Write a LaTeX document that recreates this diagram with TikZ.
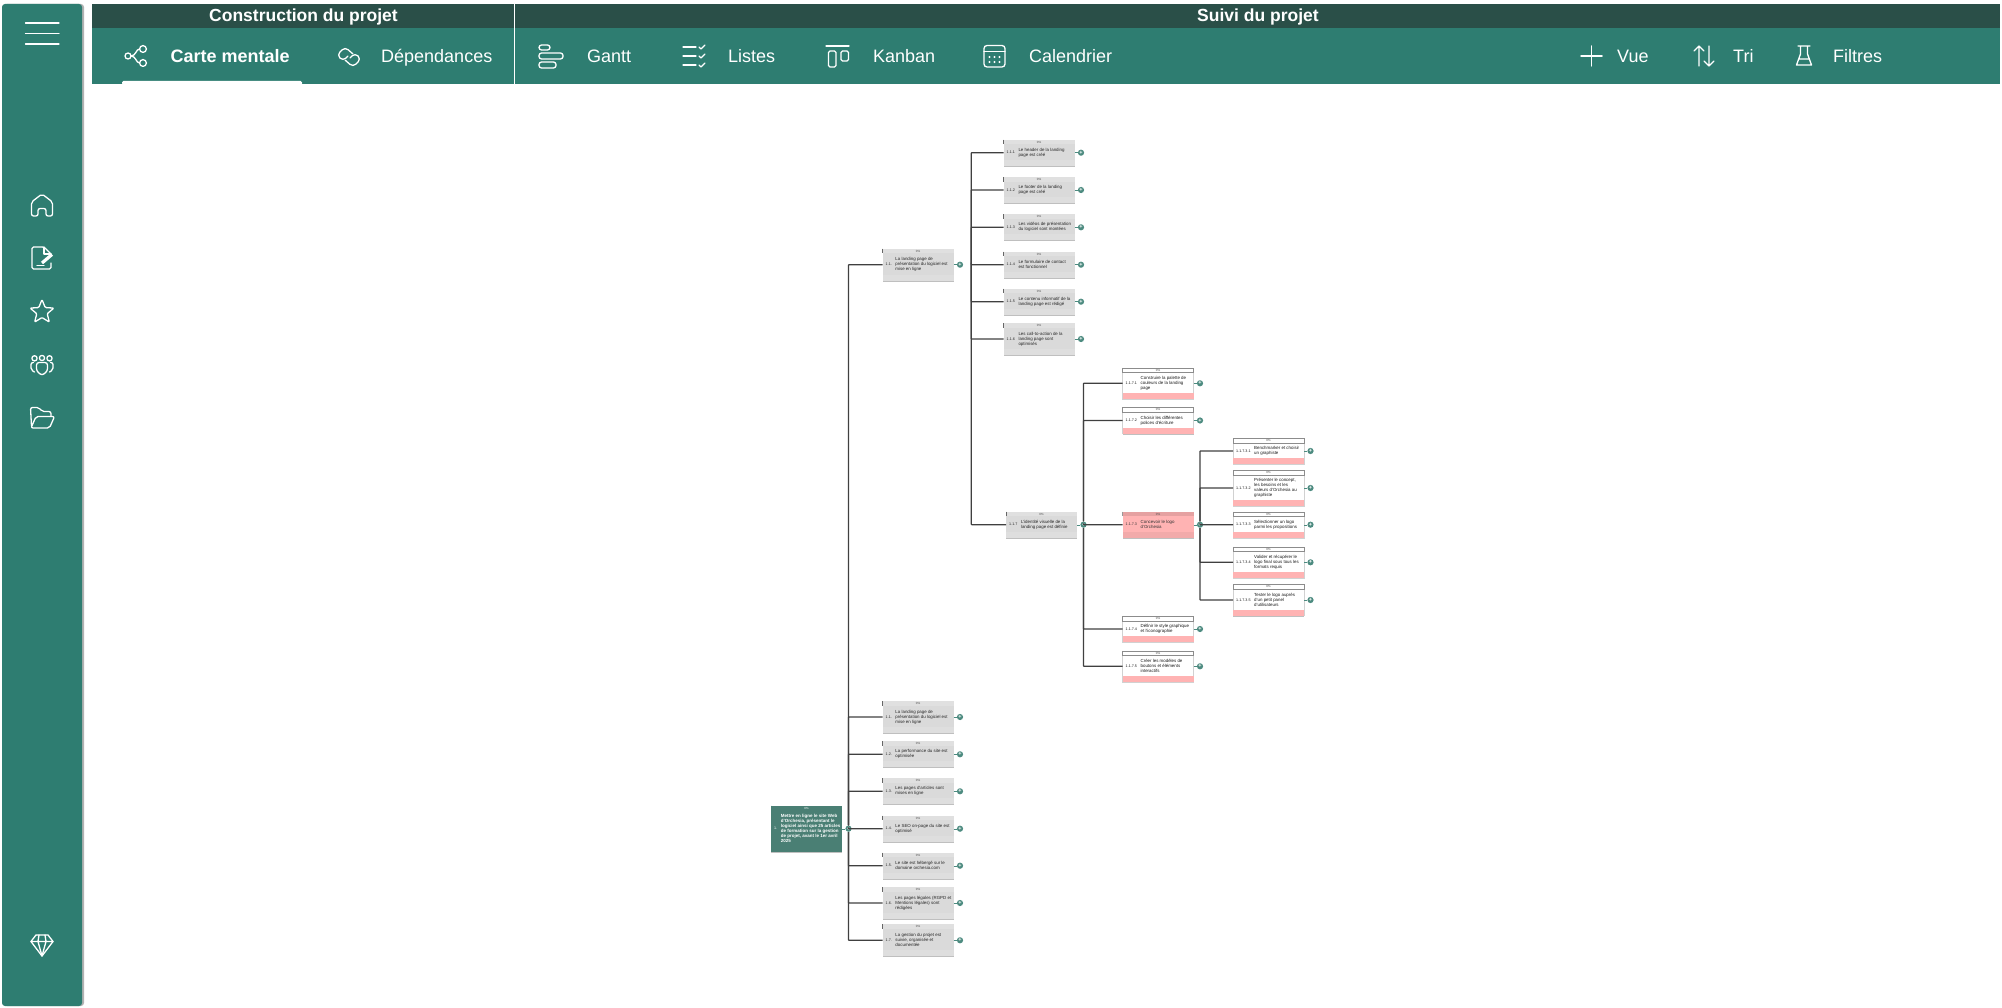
\documentclass[tikz,border=0pt]{standalone}
\usepackage{fontspec}
\setmainfont{Liberation Sans}
\usetikzlibrary{positioning}
\usetikzlibrary{shadows}

\definecolor{sarcelle}{HTML}{2E7D71}
\definecolor{sombre}{HTML}{2A4F48}
\definecolor{vertgris}{HTML}{4A7F74}
\definecolor{gris}{HTML}{DADADA}
\definecolor{rose}{HTML}{FFB3B3}
\definecolor{bouton}{HTML}{4D8B80}

\tikzset{
    icone/.style={draw=white,line width=1.3pt,line cap=round,line join=round},
    onglet/.style={text=white,font=\fontsize{18}{20}\selectfont,anchor=base west,inner sep=0pt},
    onglet gras/.style={text=white,font=\fontsize{17.5}{20}\selectfont\bfseries,anchor=base,inner sep=0pt},
    ombre/.style={drop shadow={shadow xshift=0pt,shadow yshift=-1pt,opacity=.25,fill=black}},
    corps/.style={minimum width=71pt,inner sep=0pt,outer sep=0pt,anchor=west,ombre},
    corps gris/.style={corps,fill=gris},
    corps blanc/.style={corps,fill=white,draw=black!18,line width=.4pt},
    corps rose/.style={corps,fill=rose},
    corps racine/.style={corps,fill=vertgris},
    bande/.style={minimum width=71pt,inner sep=0pt,outer sep=0pt,text height=2pt,text depth=0pt,font=\fontsize{3}{3}\selectfont},
    entete gris/.style={bande,fill=gris!85!white,text=black!70},
    entete blanc/.style={bande,fill=white,draw=black!45,line width=.4pt,text=black!70},
    entete rose/.style={bande,fill=rose!90!black,text=black!70},
    entete racine/.style={bande,fill=vertgris,text=white},
    pied gris/.style={bande,fill=gris!90!white},
    pied blanc/.style={bande,fill=rose},
    pied rose/.style={bande,fill=rose!95!black},
    pied racine/.style={bande,fill=vertgris},
    filet gris/.style={draw=black!60,line width=.6pt},
    filet blanc/.style={draw=black!45,line width=.4pt},
    filet rose/.style={draw=black!40,line width=.6pt},
    filet racine/.style={draw=vertgris,line width=.6pt},
    encre gris/.style={text=black!85},
    encre blanc/.style={text=black!90},
    encre rose/.style={text=black!80},
    encre racine/.style={text=white,font=\fontsize{4.5}{5}\selectfont\bfseries},
    ecrit/.style={inner sep=0pt,align=left,font=\fontsize{4.4}{5}\selectfont},
    nombre/.style={font=\fontsize{3.7}{5}\selectfont},
    plus/.style={circle,fill=bouton,text=white,inner sep=0pt,minimum size=6.2pt,font=\fontsize{5.5}{5}\selectfont\bfseries},
    amorce/.style={draw=bouton,line width=.4pt},
    branche/.style={draw=black!75,line width=1.2pt,rounded corners=.5pt}
}

% style, nom, x gauche, y milieu, hauteur, numero, texte
\newcommand{\tache}[7][gris]{%
    \node[corps #1,minimum height=#5pt] (#2) at (#3,#4) {};
    \node[entete #1,minimum height=4.7pt,anchor=north] (#2-ent) at (#2.north) {0\%};
    \node[pied #1,minimum height=6pt,anchor=south] (#2-pied) at (#2.south) {};
    \draw[filet #1] (#2-ent.north west) -- (#2-ent.south west);
    \node[ecrit,encre #1,nombre,anchor=west,xshift=3pt] (#2-num) at (#2.west) {#6};
    \node[ecrit,encre #1,right=3.2pt of #2-num] (#2-txt) {#7};
    \node[plus,right=3.2pt of #2] (#2-plus) {+};
    \draw[amorce] (#2) -- (#2-plus);
}

\begin{document}
\begin{tikzpicture}[x=1pt,y=-1pt]
    \useasboundingbox (0,0) rectangle (2002,1008);
    % barre laterale
    \fill[sarcelle,rounded corners=3pt,drop shadow={shadow xshift=2pt,shadow yshift=0pt,opacity=.3,fill=black}] (2,4) rectangle (82,1006);
    \draw[icone] (25.5,23) -- (59,23) (25.5,33.5) -- (59,33.5) (25.5,44) -- (59,44);
    \draw[icone,rounded corners=2pt,shift={(42,205)}] (-4,11) -- (-10.5,11) -- (-10.5,-3) -- (0,-11) -- (10.5,-3) -- (10.5,11) -- (4,11) -- (4,3.5) -- (-4,3.5) -- cycle;
    \draw[icone,rounded corners=1.5pt,shift={(42,258)}] (9,5) -- (9,11) -- (-10,11) -- (-10,-11) -- (2,-11) -- (9,-4);
    \draw[icone,shift={(42,258)}] (2,-11) -- (2,-4) -- (9,-4) (-5,7.5) -- (2,7.5);
    \draw[icone,line width=3.2pt,line cap=butt,shift={(42,258)}] (0,5) -- (10,-3.5);
    \draw[icone,rounded corners=1pt,shift={(42,312)}] (0,-12.5) -- (3.2,-4.45) -- (11.9,-3.9) -- (5.2,1.7) -- (7.35,10.1) -- (0,5.5) -- (-7.35,10.1) -- (-5.2,1.7) -- (-11.9,-3.9) -- (-3.2,-4.45) -- cycle;
    \draw[icone,shift={(42,365)}] (-7.5,-6.7) circle (2.6pt) (0,-7) circle (2.6pt) (7.5,-6.7) circle (2.6pt);
    \draw[icone,rounded corners=2.5pt,shift={(42,365)}] (-5.5,-2.5) -- (5.5,-2.5) -- (5.5,6) -- (0,10.5) -- (-5.5,6) -- cycle;
    \draw[icone,rounded corners=2pt,shift={(42,365)}] (-8.5,-2.5) -- (-11,-2.5) -- (-11,5) -- (-7.5,7) (8.5,-2.5) -- (11,-2.5) -- (11,5) -- (7.5,7);
    \draw[icone,rounded corners=2pt,shift={(42,418)}] (-10.5,8) -- (-11.5,-10.5) -- (-3,-10.5) -- (0,-6.5) -- (9,-6.5) -- (9,-1.5);
    \draw[icone,rounded corners=2pt,shift={(42,418)}] (-11,10) -- (7.5,10) -- (12.5,-1.5) -- (-6,-1.5) -- cycle;
    \draw[icone,shift={(42,945)}] (-6,-10) -- (6,-10) -- (11,-3.5) -- (0,11) -- (-11,-3.5) -- cycle;
    \draw[icone,shift={(42,945)}] (-11,-3.5) -- (11,-3.5) (-3,-10) -- (-4,-3.5) -- (0,11) -- (4,-3.5) -- (3,-10);
    % barre du haut
    \fill[sarcelle] (92,28) rectangle (2000,84);
    \fill[sombre] (92,4) rectangle (2000,28);
    \draw[white,line width=.8pt] (514,4) -- (514,84);
    \node[onglet gras] (construction) at (303.5,22) {Construction du projet};
    \node[onglet gras] (suivi) at (1258,22) {Suivi du projet};
    \node[onglet gras,anchor=base west,font=\fontsize{18}{20}\selectfont\bfseries] (carte) at (170.5,62.3) {Carte mentale};
    \fill[white,rounded corners=1.5pt] (122,85) -- (122,81) -- (302,81) -- (302,85) -- cycle;
    \node[onglet] (dependances) at (381,62.3) {Dépendances};
    \node[onglet] (gantt) at (587,62.3) {Gantt};
    \node[onglet] (listes) at (728,62.3) {Listes};
    \node[onglet] (kanban) at (873,62.3) {Kanban};
    \node[onglet] (calendrier) at (1029,62.3) {Calendrier};
    \node[onglet] (vue) at (1617,62.3) {Vue};
    \node[onglet] (tri) at (1733,62.3) {Tri};
    \node[onglet] (filtres) at (1833,62.3) {Filtres};
    % icones de la barre
    \draw[icone,shift={(136,56)}] (-8,0) circle (3pt) (7,-7) circle (3.4pt) (7,7) circle (3.4pt);
    \draw[icone,shift={(136,56)}] (-5,0) .. controls (0,0) and (0,-7) .. (3.6,-7) (-5,0) .. controls (0,0) and (0,7) .. (3.6,7);
    \draw[icone,rounded corners=4pt,shift={(349,57)}] (-1,-1) -- (-6,4) -- (-12,-2) -- (-4,-10) -- (4,-3);
    \draw[icone,rounded corners=4pt,shift={(349,57)}] (1,1) -- (6,-4) -- (12,2) -- (4,10) -- (-4,3);
    \draw[icone,rounded corners=2.5pt] (539,45) rectangle (550,50) (539,53) rectangle (563,59) (539,62) rectangle (556,68);
    \draw[icone,shift={(694,56)}] (-11,-9) -- (2,-9) (-11,0) -- (2,0) (-11,9) -- (2,9);
    \draw[icone,shift={(694,56)}] (5,-9) -- (7,-7) -- (11,-11) (5,0) -- (7,2) -- (11,-2) (5,9) -- (7,11) -- (11,7);
    \draw[icone] (826,46) -- (849,46);
    \draw[icone,rounded corners=1.5pt] (828.5,51) rectangle (836,67) (841,51) rectangle (848.5,61);
    \draw[icone,rounded corners=3pt] (984,45.5) rectangle (1005,67);
    \draw[icone] (984,51.5) -- (1005,51.5);
    \foreach \px in {989.5,994.5,999.5} {
        \fill[white] (\px,57) circle (1.1pt) (\px,62) circle (1.1pt);
    }
    \draw[icone,line width=1.5pt] (1581,56) -- (1602,56) (1591.5,46) -- (1591.5,66);
    \draw[icone,shift={(1704,56)}] (-5,10) -- (-5,-10) (-10,-5) -- (-5,-10) -- (0,-5);
    \draw[icone,shift={(1704,56)}] (5,-10) -- (5,10) (0,5) -- (5,10) -- (10,5);
    \draw[icone,shift={(1804,56)}] (-6,-10) -- (6,-10) (-3.5,-10) -- (-3.5,-2) -- (-7.5,9) -- (7.5,9) -- (3.5,-2) -- (3.5,-10) (-5,3) -- (5,3);
    % racine et premier niveau
    \tache[racine]{racine}{771}{828.7}{46}{1.}{Mettre en ligne le site Web\\d'Orchesia, présentant le\\logiciel ainsi que 25 articles\\de formation sur la gestion\\de projet, avant le 1er avril\\2025}
    \tache{t11}{882.5}{264.7}{32}{1.1.}{La landing page de\\présentation du logiciel est\\mise en ligne}
    \tache{t11b}{882.5}{717}{32}{1.1.}{La landing page de\\présentation du logiciel est\\mise en ligne}
    \tache{t12}{882.5}{754.3}{26}{1.2.}{La performance du site est\\optimisée}
    \tache{t13}{882.5}{791.3}{26}{1.3.}{Les pages d'articles sont\\mises en ligne}
    \tache{t14}{882.5}{828.7}{26}{1.4.}{Le SEO on-page du site est\\optimisé}
    \tache{t15}{882.5}{865.7}{26}{1.5.}{Le site est hébergé sur le\\domaine orchesia.com}
    \tache{t16}{882.5}{903}{32}{1.6.}{Les pages légales (RGPD et\\Mentions légales) sont\\rédigées}
    \tache{t17}{882.5}{940.3}{32}{1.7.}{La gestion du projet est\\suivie, organisée et\\documentée}
    % deuxieme niveau
    \tache{t111}{1003.5}{152.7}{26}{1.1.1}{Le header de la landing\\page est créé}
    \tache{t112}{1003.5}{190}{26}{1.1.2}{Le footer de la landing\\page est créé}
    \tache{t113}{1003.5}{227.3}{26}{1.1.3}{Les vidéos de présentation\\du logiciel sont montées}
    \tache{t114}{1003.5}{264.7}{26}{1.1.4}{Le formulaire de contact\\est fonctionnel}
    \tache{t115}{1003.5}{301.7}{26}{1.1.5}{Le contenu informatif de la\\landing page est rédigé}
    \tache{t116}{1003.5}{339}{32}{1.1.6}{Les call-to-action de la\\landing page sont\\optimisés}
    \tache{t117}{1006}{524.7}{26}{1.1.7}{L'identité visuelle de la\\landing page est définie}
    % troisieme niveau
    \tache[blanc]{t1171}{1122.5}{383.3}{31}{1.1.7.1}{Construire la palette de\\couleurs de la landing\\page}
    \tache[blanc]{t1172}{1122.5}{420.5}{26}{1.1.7.2}{Choisir les différentes\\polices d'écriture}
    \tache[rose]{t1173}{1122.5}{524.7}{26}{1.1.7.3}{Concevoir le logo\\d'Orchesia}
    \tache[blanc]{t1174}{1122.5}{629}{26}{1.1.7.4}{Définir le style graphique\\et l'iconographie}
    \tache[blanc]{t1175}{1122.5}{666.3}{31}{1.1.7.5}{Créer les modèles de\\boutons et éléments\\interactifs}
    % quatrieme niveau
    \tache[blanc]{t11731}{1233}{451}{26}{1.1.7.3.1}{Benchmarker et choisir\\un graphiste}
    \tache[blanc]{t11732}{1233}{488}{36}{1.1.7.3.2}{Présenter le concept,\\les besoins et les\\valeurs d'Orchesia au\\graphiste}
    \tache[blanc]{t11733}{1233}{524.7}{26}{1.1.7.3.3}{Sélectionner un logo\\parmi les propositions}
    \tache[blanc]{t11734}{1233}{562.3}{31}{1.1.7.3.4}{Valider et récupérer le\\logo final sous tous les\\formats requis}
    \tache[blanc]{t11735}{1233}{600}{31}{1.1.7.3.5}{Tester le logo auprès\\d'un petit panel\\d'utilisateurs}
    % branches
    \coordinate (t11-tronc) at (971.3,264.7);
    \foreach \fille in {t11,t11b,t12,t13,t14,t15,t16,t17} {
        \draw[branche] (racine-plus) |- (\fille.west);
    }
    \foreach \fille in {t111,t112,t113,t114,t115,t116,t117} {
        \draw[branche] (t11-tronc) |- (\fille.west);
    }
    \foreach \fille in {t1171,t1172,t1173,t1174,t1175} {
        \draw[branche] (t117-plus) |- (\fille.west);
    }
    \foreach \fille in {t11731,t11732,t11733,t11734,t11735} {
        \draw[branche] (t1173-plus) |- (\fille.west);
    }
\end{tikzpicture}
\end{document}
